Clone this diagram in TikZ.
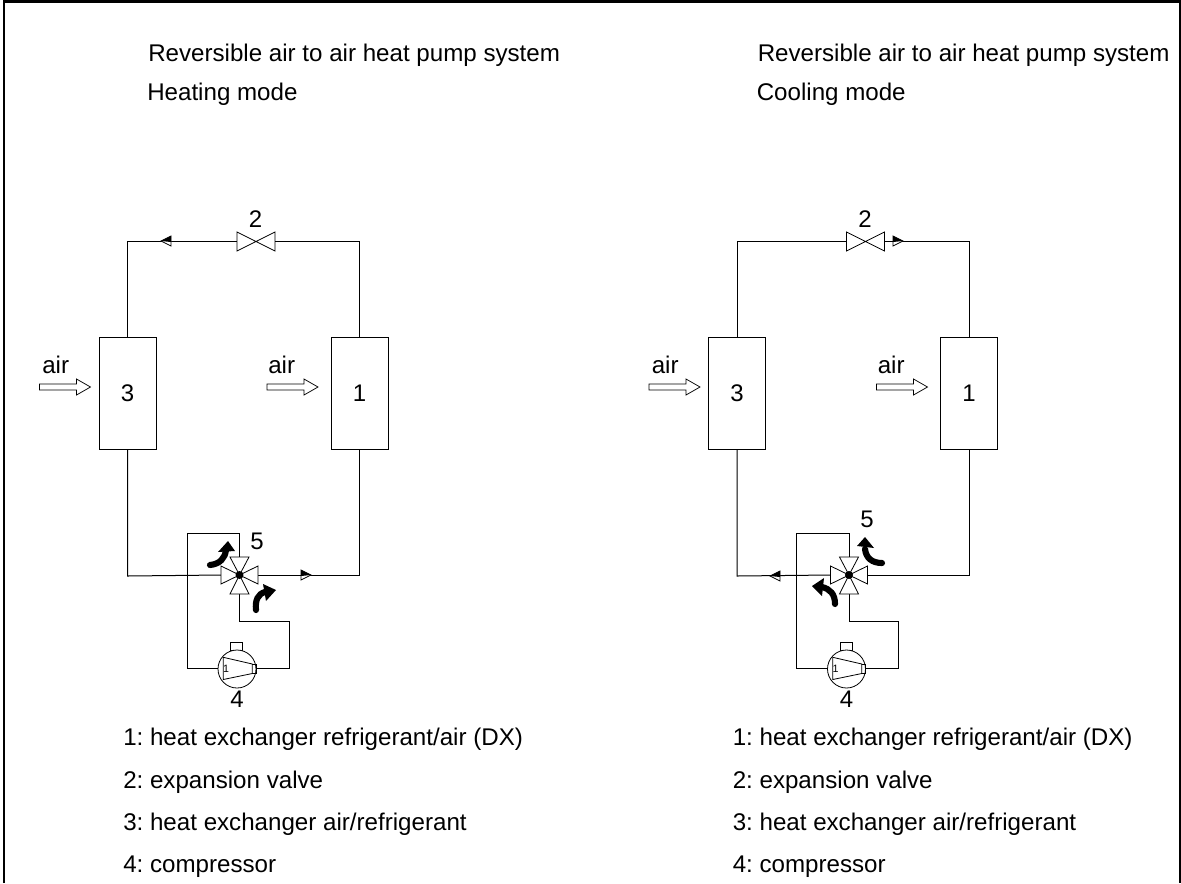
\documentclass[tikz,border=0pt]{standalone}
\usepackage{fontspec}
\setmainfont{Liberation Sans}
\tikzset{
 x=0.75pt,y=-0.75pt,
 pipe/.style={line width=0.75pt,draw=black},
 thin shape/.style={line width=0.6pt,draw=black,fill=white},
 hx/.style={line width=0.75pt,draw=black,fill=white,minimum width=42.75pt,minimum height=84pt,inner sep=0pt,font=\fontsize{18}{20}\selectfont},
 lbl/.style={inner sep=0pt,anchor=base west,font=\fontsize{18.1}{20}\selectfont\frenchspacing},
 num/.style={inner sep=0pt,anchor=base,font=\fontsize{18}{20}\selectfont},
 thick bend/.style={line width=4.6pt,line cap=round,draw=black},
}
\newcommand{\flowtip}[3]{% x y dir
 \draw[line width=0.6pt,fill=white] (#1,#2-5) -- (#1+#3*10,#2) -- (#1,#2+5) -- cycle;
 \fill (#1,#2-5) -- (#1+#3*10,#2) -- (#1,#2+1) -- cycle;}
\newcommand{\airarrow}[2]{%
 \draw[line width=0.55pt,fill=white] (#1,#2-3) -- (#1+37,#2-3) -- (#1+37,#2-8) -- (#1+51,#2) -- (#1+37,#2+8) -- (#1+37,#2+3) -- (#1,#2+3) -- cycle;}
\newcommand{\plant}[3]{% offset, suffix, title
 \begin{scope}[shift={(#1,0)}]
 \node[lbl] at (148,61) {Reversible air to air heat pump system};
 \node[lbl] at (147,100) {#3};
 \node[hx] (hxa#2) at (127.5,393) {3};
 \node[hx] (hxb#2) at (359.5,393) {1};
 \coordinate (tl#2) at (127.5,241);
 \coordinate (tr#2) at (359.5,241);
 \coordinate (wc#2) at (239.5,575);
 \coordinate (wl#2) at (221,575);
 \coordinate (wr#2) at (258,575);
 \coordinate (wt#2) at (239.5,557);
 \coordinate (wb#2) at (239.5,594);
 \coordinate (cc#2) at (237,669);
 \draw[pipe] (hxa#2.north -| tl#2) -- (tl#2) -- (237,241);
 \draw[pipe] (hxb#2.north -| tr#2) -- (tr#2) -- (275,241);
 \draw[pipe] (hxa#2.south -| tl#2) -- (127.5,576) -- (wl#2);
 \draw[pipe] (hxb#2.south -| tr#2) -- (359.5,575) -- (wr#2);
 \draw[pipe] (wt#2) -- (239.5,533) -- (187,533) -- (187,668.5) -- (218,668.5);
 \draw[pipe] (wb#2) -- (239.5,621) -- (289,621) -- (289,668.5) -- (256,668.5);
 % expansion valve
 \draw[thin shape,fill=none] (237,232) -- (275,251) -- (275,232) -- (237,251) -- cycle;
 \node[num] at (255.5,227) {2};
 % four way valve
 \draw[thin shape] (wc#2) -- (230,557) -- (249,557) -- cycle;
 \draw[thin shape] (wc#2) -- (230,594) -- (249,594) -- cycle;
 \draw[thin shape] (wc#2) -- (221,566) -- (221,584) -- cycle;
 \draw[thin shape] (wc#2) -- (258,566) -- (258,584) -- cycle;
 \fill (wc#2) circle[radius=4];
 % compressor
 \draw[thin shape] (230.5,642) rectangle (242.5,650);
 \draw[thin shape] (cc#2) circle[radius=19];
 \draw[thin shape,fill=none] (223.3,657.3) -- (252.3,664) -- (252.3,673.5) -- (223.3,679.5) -- cycle;
 \draw[thin shape,fill=none] (252.3,664) -- (256,664) -- (256,673.5) -- (252.3,673.5);
 \node[inner sep=0pt,font=\fontsize{8}{9}\selectfont] at (226,668.5) {1};
 \node[num] at (237,707) {4};
 % air
 \node[lbl] at (42,373) {air};
 \airarrow{39.5}{387}
 \node[lbl] at (268,373) {air};
 \airarrow{267}{387}
 % legend
 \node[lbl] at (123,745) {1: heat exchanger refrigerant/air (DX)};
 \node[lbl] at (123,788) {2: expansion valve};
 \node[lbl] at (123,830) {3: heat exchanger air/refrigerant};
 \node[lbl] at (123,872) {4: compressor};
 \end{scope}}
\begin{document}
\begin{tikzpicture}
\path[use as bounding box] (0,0) rectangle (1181,883);
\draw[line width=2pt] (4,883) -- (4,1.3) -- (1180,1.3) -- (1180,883);
\plant{0}{L}{Heating mode}
\plant{609.5}{R}{Cooling mode}
\node[num] at (257,549) {5};
\node[num] at (867,527) {5};
\flowtip{171}{241}{-1}
\flowtip{301}{575}{1}
\draw[thick bend] (210,565) .. controls (220,564) and (225,558) .. (226,550);
\fill (218,552) -- (228,541) -- (235,551) -- cycle;
\draw[thick bend] (256,610) .. controls (255,600) and (258,594) .. (265,592);
\fill (263,584) -- (276,590) -- (266,601) -- cycle;
\flowtip{893}{241}{1}
\flowtip{780}{576}{-1}
\draw[thick bend] (835,604) .. controls (835,594) and (830,589) .. (822,587);
\fill (824,578) -- (812,586) -- (822,596) -- cycle;
\draw[thick bend] (882,563) .. controls (872,563) and (866,558) .. (865,549);
\fill (857,546) -- (865,537) -- (874,548) -- cycle;
\end{tikzpicture}
\end{document}
